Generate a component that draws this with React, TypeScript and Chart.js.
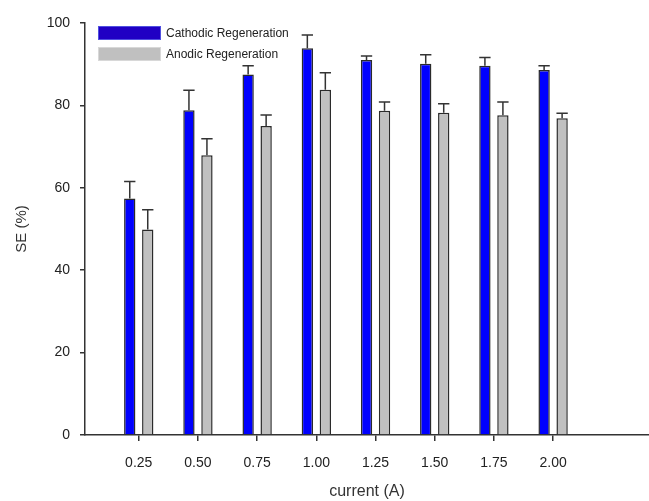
import React, { useEffect, useRef } from "react";
import { Chart, registerables } from "chart.js";

Chart.register(...registerables);

const currents = [0.25, 0.5, 0.75, 1.0, 1.25, 1.5, 1.75, 2.0];
const cathodic = [57.4, 78.8, 87.5, 93.9, 91.0, 90.1, 89.6, 88.6];
const cathodicErr = [4.1, 4.9, 2.1, 3.2, 1.0, 2.2, 2.0, 1.0];
const anodic = [49.9, 67.9, 75.0, 83.8, 78.7, 78.2, 77.6, 76.9];
const anodicErr = [4.8, 4.0, 2.7, 4.1, 2.1, 2.2, 3.2, 1.2];
const yTicks = [0, 20, 40, 60, 80, 100];
const legendLabels = ["Cathodic Regeneration", "Anodic Regeneration"];

const errors = [cathodicErr, anodicErr];
const legendColors = ["#2000c4", "#c0c0c0"];

const errorBarPlugin = {
  id: "errorBars",
  afterDatasetsDraw(chart: any) {
    const ctx = chart.ctx;
    const yScale = chart.scales.y;
    ctx.save();
    ctx.strokeStyle = "#333";
    ctx.lineWidth = 1.5;
    chart.data.datasets.forEach((ds: any, di: number) => {
      const meta = chart.getDatasetMeta(di);
      meta.data.forEach((bar: any, i: number) => {
        const v = ds.data[i].y;
        const top = yScale.getPixelForValue(v + errors[di][i]);
        const half = bar.width / 2;
        ctx.beginPath();
        ctx.moveTo(bar.x, bar.y);
        ctx.lineTo(bar.x, top);
        ctx.moveTo(bar.x - half, top);
        ctx.lineTo(bar.x + half, top);
        ctx.stroke();
      });
    });
    ctx.restore();
  },
};

const legendPlugin = {
  id: "customLegend",
  afterDraw(chart: any) {
    const ctx = chart.ctx;
    ctx.save();
    ctx.font = "12px 'Liberation Sans', Arial, sans-serif";
    ctx.textBaseline = "middle";
    ctx.textAlign = "left";
    legendLabels.forEach((label, i) => {
      const y = 26 + i * 21;
      ctx.fillStyle = legendColors[i];
      ctx.fillRect(98, y, 63, 14);
      ctx.strokeStyle = i === 0 ? "#5050e0" : "#d8d8d8";
      ctx.lineWidth = 1;
      ctx.strokeRect(98.5, y + 0.5, 62, 13);
      ctx.fillStyle = "#222";
      ctx.fillText(label, 166, y + 8);
    });
    ctx.restore();
  },
};

export default function App() {
  const ref = useRef<HTMLCanvasElement>(null);
  useEffect(() => {
    document.body.style.margin = "0";
    Chart.defaults.font.family = "'Liberation Sans', Arial, sans-serif";
    const chart = new Chart(ref.current!, {
      type: "bar",
      data: {
        datasets: [
          {
            label: legendLabels[0],
            data: currents.map((c, i) => ({ x: c, y: cathodic[i] })),
            backgroundColor: "#0000ff",
            borderColor: "#2a2a2a",
            borderWidth: 1.5,
          },
          {
            label: legendLabels[1],
            data: currents.map((c, i) => ({ x: c, y: anodic[i] })),
            backgroundColor: "#c0c0c0",
            borderColor: "#2a2a2a",
            borderWidth: 1.5,
          },
        ],
      },
      options: {
        responsive: false,
        animation: false,
        devicePixelRatio: 1,
        categoryPercentage: 0.608,
        barPercentage: 0.63,
        layout: { padding: { top: 23, right: 0, left: 0, bottom: 0 } },
        plugins: {
          legend: { display: false },
          tooltip: { enabled: false },
        },
        scales: {
          x: {
            type: "linear",
            min: 0.023,
            max: 2.405,
            offset: false,
            bounds: "data",
            afterBuildTicks: (scale: any) => {
              scale.ticks = currents.map((v) => ({ value: v }));
            },
            afterFit: (scale: any) => {
              scale.height = 66;
            },
            grid: {
              offset: false,
              drawOnChartArea: false,
              drawTicks: true,
              tickLength: 6,
              color: "#333",
              lineWidth: 1.5,
            },
            border: { display: true, color: "#333", width: 1.5 },
            ticks: {
              autoSkip: false,
              maxRotation: 0,
              padding: 14,
              color: "#222",
              font: { size: 14 },
              callback: (v: any) => Number(v).toFixed(2),
            },
            title: {
              display: true,
              text: "current (A)",
              color: "#333",
              font: { size: 16 },
              padding: { top: 0, bottom: 0 },
            },
          },
          y: {
            min: 0,
            max: 100,
            afterBuildTicks: (scale: any) => {
              scale.ticks = yTicks.map((v) => ({ value: v }));
            },
            afterFit: (scale: any) => {
              scale.width = 85;
            },
            grid: {
              drawOnChartArea: false,
              drawTicks: true,
              tickLength: 5,
              color: "#333",
              lineWidth: 1.5,
            },
            border: { display: true, color: "#333", width: 1.5 },
            ticks: {
              padding: 10,
              color: "#222",
              font: { size: 14 },
            },
            title: {
              display: true,
              text: "SE (%)",
              color: "#333",
              font: { size: 15 },
              padding: { top: 13, bottom: 0 },
            },
          },
        },
      },
      plugins: [errorBarPlugin, legendPlugin],
    } as any);
    return () => chart.destroy();
  }, []);
  return (
    <div style={{ width: 649, height: 501 }}>
      <canvas ref={ref} width={649} height={501} style={{ display: "block" }} />
    </div>
  );
}
